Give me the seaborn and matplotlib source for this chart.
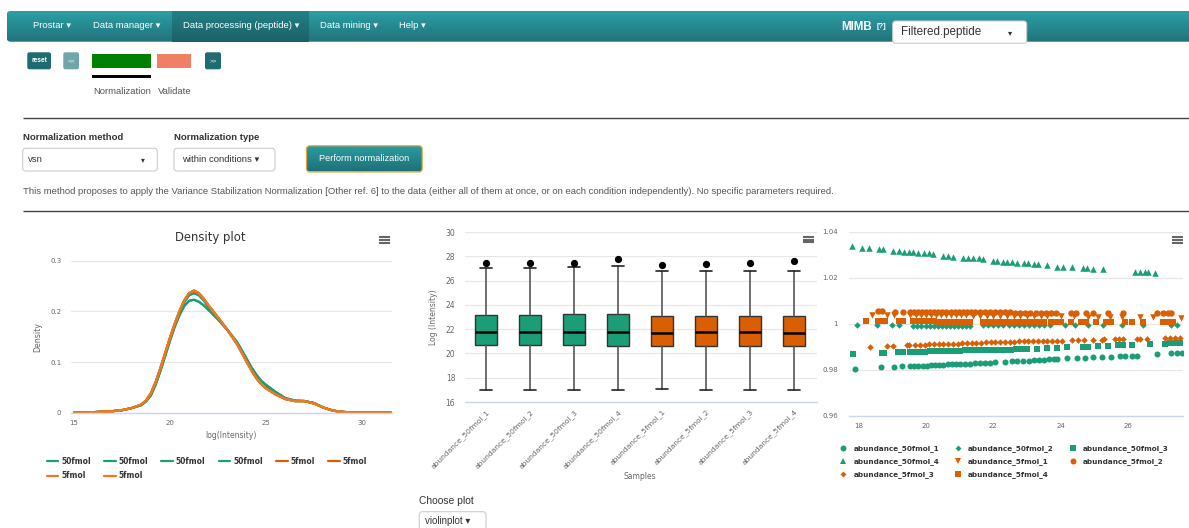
import numpy as np
import pandas as pd
import matplotlib
matplotlib.use("Agg")
import matplotlib.pyplot as plt
import seaborn as sns
from matplotlib.patches import Rectangle, FancyBboxPatch
from matplotlib.lines import Line2D
from matplotlib.colors import LinearSegmentedColormap

# ---------------- DATA ----------------
samples = ["abundance_50fmol_1", "abundance_50fmol_2", "abundance_50fmol_3", "abundance_50fmol_4",
           "abundance_5fmol_1", "abundance_5fmol_2", "abundance_5fmol_3", "abundance_5fmol_4"]
conditions = ["50fmol", "50fmol", "50fmol", "50fmol", "5fmol", "5fmol", "5fmol", "5fmol"]

# density plot
density_x = [15.0, 15.5, 16.0, 16.5, 17.0, 17.5, 18.0, 18.5, 18.75, 19.0,
             19.25, 19.5, 19.75, 20.0, 20.25, 20.5, 20.75, 21.0, 21.25, 21.5,
             21.75, 22.0, 22.5, 23.0, 23.5, 24.0, 24.25, 24.5, 24.75, 25.0,
             25.5, 26.0, 26.5, 27.0, 27.5, 28.0, 28.5, 29.0, 29.5, 30.0,
             31.0, 31.5]
dens_orange = [0.000, 0.000, 0.001, 0.002, 0.003, 0.005, 0.009, 0.016, 0.024, 0.038,
               0.060, 0.088, 0.118, 0.148, 0.176, 0.201, 0.222, 0.236, 0.241, 0.236,
               0.225, 0.212, 0.188, 0.163, 0.135, 0.100, 0.083, 0.068, 0.057, 0.048,
               0.036, 0.027, 0.023, 0.023, 0.018, 0.010, 0.004, 0.0015, 0.0005, 0.0002,
               0.000, 0.000]
dens_green_a = [0.000, 0.000, 0.001, 0.002, 0.003, 0.005, 0.009, 0.015, 0.022, 0.034,
                0.055, 0.082, 0.112, 0.142, 0.170, 0.193, 0.211, 0.221, 0.223, 0.219,
                0.212, 0.203, 0.184, 0.163, 0.139, 0.106, 0.089, 0.075, 0.063, 0.055,
                0.041, 0.029, 0.024, 0.023, 0.019, 0.010, 0.004, 0.0015, 0.0005, 0.0002,
                0.000, 0.000]
dens_green_b = [0.000, 0.000, 0.001, 0.002, 0.003, 0.005, 0.009, 0.015, 0.023, 0.035,
                0.057, 0.085, 0.115, 0.146, 0.174, 0.199, 0.219, 0.232, 0.236, 0.232,
                0.222, 0.209, 0.186, 0.163, 0.137, 0.103, 0.086, 0.071, 0.060, 0.052,
                0.039, 0.028, 0.023, 0.023, 0.019, 0.010, 0.004, 0.0015, 0.0005, 0.0002,
                0.000, 0.000]
density_by_sample = [dens_green_a, dens_green_a, dens_green_b, dens_green_b,
                     dens_orange, dens_orange, dens_orange, dens_orange]

# boxplot statistics (log intensity)
box_q1 = [20.69, 20.69, 20.69, 20.64, 20.64, 20.64, 20.64, 20.64]
box_median = [21.79, 21.79, 21.79, 21.79, 21.66, 21.74, 21.74, 21.66]
box_q3 = [23.17, 23.17, 23.25, 23.22, 23.08, 23.08, 23.08, 23.08]
box_whislo = [17.02, 17.02, 16.96, 16.96, 17.07, 17.02, 17.02, 17.02]
box_whishi = [27.01, 27.01, 27.09, 27.17, 26.79, 26.79, 26.79, 26.79]
box_outlier = [27.47, 27.47, 27.42, 27.75, 27.31, 27.36, 27.42, 27.58]

# scatter series
sc_x_50_1 = [17.90, 18.67, 19.06, 19.28, 19.53, 19.65, 19.78, 19.90, 20.02, 20.15,
             20.28, 20.40, 20.52, 20.65, 20.78, 20.90, 21.02, 21.15, 21.30, 21.45,
             21.60, 21.75, 21.90, 22.05, 22.35, 22.55, 22.70, 22.89, 23.05, 23.20,
             23.35, 23.50, 23.65, 23.80, 23.90, 24.17, 24.47, 24.72, 24.96, 25.21,
             25.50, 25.75, 25.90, 26.10, 26.25, 26.84, 27.28, 27.43, 27.58]
sc_y_50_1 = [0.9803, 0.9811, 0.9814, 0.9816, 0.9817, 0.9818, 0.9818, 0.9819, 0.9819, 0.9820,
             0.9821, 0.9822, 0.9823, 0.9824, 0.9824, 0.9825, 0.9826, 0.9827, 0.9828, 0.9829,
             0.9830, 0.9831, 0.9832, 0.9833, 0.9835, 0.9837, 0.9838, 0.9840, 0.9841, 0.9843,
             0.9844, 0.9845, 0.9847, 0.9848, 0.9849, 0.9851, 0.9852, 0.9854, 0.9855, 0.9856,
             0.9858, 0.9859, 0.9860, 0.9862, 0.9863, 0.9869, 0.9872, 0.9872, 0.9872]
sc_x_50_2 = [17.97, 18.54, 18.99, 19.19, 19.63, 19.75, 19.87, 19.99, 20.11, 20.23,
             20.35, 20.47, 20.59, 20.71, 20.83, 20.95, 21.07, 21.19, 21.31, 21.70,
             21.85, 22.00, 22.15, 22.30, 22.45, 22.60, 22.75, 22.90, 23.05, 23.20,
             23.35, 23.50, 23.68, 24.12, 24.42, 24.81, 25.26, 25.80, 26.44, 27.28,
             27.43]
sc_y_50_2 = [0.9994, 0.9994, 0.9994, 0.9994, 0.9993, 0.9993, 0.9993, 0.9993, 0.9993, 0.9993,
             0.9993, 0.9993, 0.9993, 0.9993, 0.9993, 0.9993, 0.9993, 0.9993, 0.9993, 0.9994,
             0.9994, 0.9994, 0.9994, 0.9994, 0.9994, 0.9994, 0.9994, 0.9994, 0.9994, 0.9994,
             0.9994, 0.9994, 0.9994, 0.9994, 0.9995, 0.9995, 0.9995, 0.9995, 0.9995, 0.9995,
             0.9995]
sc_x_50_3 = [17.85, 18.69, 18.76, 19.16, 19.31, 19.53, 19.68, 19.83, 19.98, 20.12,
             20.27, 20.42, 20.57, 20.72, 20.87, 21.02, 21.17, 21.32, 21.47, 21.62,
             21.77, 21.92, 22.07, 22.22, 22.37, 22.52, 22.67, 22.82, 22.99, 23.28,
             23.58, 23.88, 24.17, 24.67, 24.81, 25.11, 25.41, 25.70, 25.85, 26.10,
             26.64, 27.09, 27.24, 27.39, 27.53]
sc_y_50_3 = [0.9870, 0.9875, 0.9875, 0.9877, 0.9878, 0.9879, 0.9879, 0.9880, 0.9880, 0.9881,
             0.9881, 0.9882, 0.9883, 0.9883, 0.9884, 0.9884, 0.9885, 0.9885, 0.9886, 0.9886,
             0.9887, 0.9887, 0.9888, 0.9888, 0.9889, 0.9889, 0.9890, 0.9890, 0.9891, 0.9893,
             0.9895, 0.9897, 0.9899, 0.9901, 0.9902, 0.9904, 0.9905, 0.9907, 0.9908, 0.9909,
             0.9912, 0.9915, 0.9916, 0.9916, 0.9916]
sc_x_50_4 = [17.80, 18.12, 18.30, 18.61, 18.72, 19.04, 19.19, 19.34, 19.49, 19.63,
             19.78, 19.93, 20.08, 20.22, 20.52, 20.67, 20.81, 21.11, 21.26, 21.41,
             21.56, 21.70, 22.00, 22.10, 22.30, 22.40, 22.55, 22.70, 22.90, 23.04,
             23.19, 23.33, 23.58, 23.88, 24.07, 24.32, 24.67, 24.77, 24.96, 25.26,
             26.20, 26.35, 26.49, 26.59, 26.79]
sc_y_50_4 = [1.0339, 1.0332, 1.0332, 1.0325, 1.0325, 1.0317, 1.0316, 1.0315, 1.0313, 1.0312,
             1.0310, 1.0309, 1.0308, 1.0304, 1.0297, 1.0296, 1.0293, 1.0288, 1.0287, 1.0286,
             1.0285, 1.0283, 1.0274, 1.0273, 1.0271, 1.0268, 1.0268, 1.0267, 1.0265, 1.0264,
             1.0261, 1.0259, 1.0257, 1.0249, 1.0249, 1.0249, 1.0245, 1.0245, 1.0241, 1.0239,
             1.0228, 1.0227, 1.0226, 1.0225, 1.0223]
sc_x_5_1 = [18.40, 18.84, 19.06, 19.53, 19.70, 19.85, 20.00, 20.15, 20.30, 20.45,
            20.60, 20.75, 20.90, 21.05, 21.20, 21.40, 21.60, 21.80, 22.00, 22.20,
            22.40, 22.60, 22.80, 23.00, 23.20, 23.40, 23.60, 24.00, 24.40, 24.80,
            25.10, 25.46, 25.80, 26.35, 26.74, 27.55]
sc_y_5_1 = [1.0040, 1.0040, 1.0039, 1.0039, 1.0039, 1.0039, 1.0038, 1.0038, 1.0038, 1.0038,
            1.0038, 1.0037, 1.0037, 1.0037, 1.0037, 1.0036, 1.0036, 1.0036, 1.0036, 1.0035,
            1.0035, 1.0035, 1.0035, 1.0034, 1.0034, 1.0034, 1.0034, 1.0033, 1.0033, 1.0032,
            1.0032, 1.0031, 1.0031, 1.0030, 1.0030, 1.0028]
sc_x_5_2 = [18.59, 18.69, 19.09, 19.33, 19.53, 19.65, 19.77, 19.89, 20.01, 20.13,
            20.25, 20.37, 20.49, 20.61, 20.73, 20.85, 20.97, 21.09, 21.21, 21.33,
            21.45, 21.60, 21.75, 21.90, 22.05, 22.20, 22.35, 22.50, 22.65, 22.80,
            22.95, 23.10, 23.25, 23.40, 23.55, 23.70, 23.85, 24.30, 24.45, 24.75,
            24.96, 25.41, 25.85, 26.84, 27.04, 27.18, 27.28]
sc_y_5_2 = [1.0055, 1.0055, 1.0054, 1.0054, 1.0054, 1.0054, 1.0054, 1.0053, 1.0053, 1.0053,
            1.0053, 1.0053, 1.0053, 1.0053, 1.0052, 1.0052, 1.0052, 1.0052, 1.0052, 1.0052,
            1.0052, 1.0051, 1.0051, 1.0051, 1.0051, 1.0051, 1.0051, 1.0051, 1.0050, 1.0050,
            1.0050, 1.0050, 1.0050, 1.0050, 1.0050, 1.0049, 1.0049, 1.0049, 1.0049, 1.0048,
            1.0048, 1.0047, 1.0047, 1.0046, 1.0046, 1.0046, 1.0046]
sc_x_5_3 = [18.35, 18.86, 19.04, 19.43, 19.51, 19.68, 19.82, 19.96, 20.10, 20.24,
            20.38, 20.52, 20.66, 20.80, 20.94, 21.08, 21.22, 21.36, 21.50, 21.64,
            21.78, 21.92, 22.06, 22.20, 22.34, 22.48, 22.62, 22.76, 22.90, 23.04,
            23.18, 23.32, 23.46, 23.60, 23.74, 23.88, 24.02, 24.32, 24.52, 24.70,
            24.96, 25.22, 25.28, 25.60, 25.72, 25.85, 26.25, 26.35, 26.54, 27.09,
            27.24, 27.39, 27.53]
sc_y_5_3 = [0.9901, 0.9904, 0.9906, 0.9907, 0.9907, 0.9909, 0.9910, 0.9910, 0.9911, 0.9912,
            0.9912, 0.9913, 0.9914, 0.9915, 0.9915, 0.9916, 0.9917, 0.9918, 0.9918, 0.9919,
            0.9920, 0.9921, 0.9921, 0.9922, 0.9922, 0.9923, 0.9923, 0.9924, 0.9924, 0.9925,
            0.9925, 0.9926, 0.9926, 0.9926, 0.9927, 0.9927, 0.9928, 0.9929, 0.9929, 0.9930,
            0.9931, 0.9932, 0.9933, 0.9935, 0.9935, 0.9935, 0.9936, 0.9936, 0.9936, 0.9938,
            0.9938, 0.9938, 0.9938]
sc_x_5_4 = [18.23, 18.59, 18.69, 18.79, 19.19, 19.33, 19.63, 19.75, 19.87, 19.99,
            20.11, 20.23, 20.35, 20.47, 20.59, 20.71, 20.83, 20.95, 21.07, 21.19,
            21.31, 21.70, 21.82, 21.94, 22.06, 22.18, 22.30, 22.42, 22.54, 22.66,
            22.78, 22.90, 23.02, 23.14, 23.26, 23.38, 23.50, 23.70, 23.85, 24.00,
            24.30, 24.60, 24.75, 25.05, 25.35, 25.50, 25.90, 26.10, 26.44, 27.04,
            27.18, 27.33]
sc_y_5_4 = [1.0011, 1.0012, 1.0012, 1.0012, 1.0011, 1.0011, 1.0011, 1.0011, 1.0011, 1.0011,
            1.0011, 1.0011, 1.0010, 1.0010, 1.0010, 1.0010, 1.0010, 1.0010, 1.0010, 1.0010,
            1.0010, 1.0010, 1.0010, 1.0010, 1.0010, 1.0010, 1.0010, 1.0010, 1.0010, 1.0010,
            1.0010, 1.0010, 1.0010, 1.0010, 1.0010, 1.0010, 1.0010, 1.0010, 1.0010, 1.0010,
            1.0010, 1.0010, 1.0010, 1.0010, 1.0010, 1.0010, 1.0010, 1.0010, 1.0010, 1.0009,
            1.0009, 1.0009]
scatter_x = [sc_x_50_1, sc_x_50_2, sc_x_50_3, sc_x_50_4, sc_x_5_1, sc_x_5_2, sc_x_5_3, sc_x_5_4]
scatter_y = [sc_y_50_1, sc_y_50_2, sc_y_50_3, sc_y_50_4, sc_y_5_1, sc_y_5_2, sc_y_5_3, sc_y_5_4]

density_xticks = [15, 20, 25, 30]
density_yticks = [0, 0.1, 0.2, 0.3]
density_yticklabels = ["0", "0.1", "0.2", "0.3"]
box_yticks = [16, 18, 20, 22, 24, 26, 28, 30]
scatter_xticks = [18, 20, 22, 24, 26]
scatter_yticks = [0.96, 0.98, 1.0, 1.02, 1.04]
scatter_yticklabels = ["0.96", "0.98", "1", "1.02", "1.04"]

# ---------------- STYLE ----------------
GREEN = "#1b9e77"
ORANGE = "#d95f02"
ORANGE_L = "#ec7a22"
line_colors = [GREEN, GREEN, GREEN, GREEN, ORANGE, ORANGE, ORANGE_L, ORANGE_L]
box_colors = [GREEN] * 4 + [ORANGE] * 4
sc_colors = [GREEN] * 4 + [ORANGE] * 4
sc_markers = ["o", "D", "s", "^", "v", "o", "D", "s"]
sc_sizes = [19, 11, 16, 22, 22, 21, 11, 17]
leg_msizes = [4.3, 3.0, 3.9, 4.5, 4.5, 4.3, 3.0, 3.9]

sns.set_theme(style="white")
plt.rcParams["font.family"] = ["DejaVu Sans"]
PAGE = ["Liberation Sans", "DejaVu Sans"]

W, H = 1189, 528
fig = plt.figure(figsize=(W / 100, H / 100), dpi=100)
fig.patch.set_facecolor("white")

bg = fig.add_axes([0, 0, 1, 1], zorder=0)
bg.set_xlim(0, W)
bg.set_ylim(H, 0)
bg.axis("off")

# navbar
grad = np.linspace(0, 1, 64).reshape(-1, 1)
nav_cmap = LinearSegmentedColormap.from_list("nav", ["#2b9fa6", "#22727a"])
act_cmap = LinearSegmentedColormap.from_list("act", ["#228187", "#1d6067"])
im = bg.imshow(grad, cmap=nav_cmap, extent=(6.7, W + 6, 41.7, 11), aspect="auto", zorder=1)
clip = FancyBboxPatch((6.7, 11), W, 30.7, boxstyle="round,pad=0,rounding_size=4",
                      facecolor="none", edgecolor="none", transform=bg.transData)
bg.add_patch(clip)
im.set_clip_path(clip)
bg.imshow(grad, cmap=act_cmap, extent=(172, 309, 41.7, 11), aspect="auto", zorder=1.5)
bg.set_xlim(0, W)
bg.set_ylim(H, 0)

nav_items = [(32.7, "Prostar ▾"), (93, "Data manager ▾"), (182.7, "Data processing (peptide) ▾"),
             (320, "Data mining ▾"), (399, "Help ▾")]
for x, t in nav_items:
    bg.text(x, 25, t, color="white", fontsize=6.8, family=PAGE, va="center", zorder=3)
bg.text(841.7, 27, "MIMB", color="white", fontsize=8.3, weight="bold", family=PAGE, va="center", zorder=3)
bg.text(877, 26.5, "[?]", color="white", fontsize=5.5, weight="bold", family=PAGE, va="center", zorder=3)


def box(x0, y0, x1, y1, fc, ec=None, lw=0.0, r=2.0, z=2):
    p = FancyBboxPatch((x0, y0), x1 - x0, y1 - y0, boxstyle=f"round,pad=0,rounding_size={r}",
                       facecolor=fc, edgecolor=ec if ec else fc, linewidth=lw, zorder=z)
    bg.add_patch(p)
    return p


box(892.7, 21, 1026.7, 43.3, "white", "#cccccc", 0.8, 3, 3)
bg.text(901, 32.5, "Filtered.peptide", color="#333333", fontsize=8.4, family=PAGE, va="center", zorder=4)
bg.text(1010, 32.5, "▾", color="#333333", fontsize=6, va="center", ha="center", zorder=4)

# wizard buttons
box(27.3, 52.3, 51, 69.3, "#1e6b70", r=2)
bg.text(39.2, 60.8, "reset", color="white", fontsize=4.8, weight="bold", family=PAGE, ha="center", va="center", zorder=3)
box(63.3, 52.3, 79, 69.3, "#6ea6ab", r=2)
bg.text(71.2, 60.8, "<<", color="white", fontsize=4.6, family=PAGE, ha="center", va="center", zorder=3)
bg.add_patch(Rectangle((92.3, 54.3), 58.4, 13.4, facecolor="#008000", edgecolor="none", zorder=2))
bg.add_patch(Rectangle((157.3, 54.3), 33.7, 13.4, facecolor="#ef8064", edgecolor="none", zorder=2))
box(205, 52.3, 221, 69.3, "#1e6b70", r=2)
bg.text(213, 60.8, ">>", color="white", fontsize=4.6, family=PAGE, ha="center", va="center", zorder=3)
bg.add_patch(Rectangle((92.3, 75), 58.4, 3.2, facecolor="black", edgecolor="none", zorder=2))
bg.text(93, 91, "Normalization", color="#555555", fontsize=6.8, family=PAGE, va="center")
bg.text(157.7, 91, "Validate", color="#555555", fontsize=6.8, family=PAGE, va="center")

bg.hlines(118.3, 22.7, W, color="#444444", lw=1.0)
bg.text(22.7, 138, "Normalization method", color="#333333", fontsize=6.8, weight="bold", family=PAGE, va="center")
bg.text(174, 138, "Normalization type", color="#333333", fontsize=6.8, weight="bold", family=PAGE, va="center")
box(22.7, 148.3, 157.3, 171, "white", "#cccccc", 0.8, 3)
bg.text(27.7, 160, "vsn", color="#333333", fontsize=6.8, family=PAGE, va="center", zorder=3)
bg.text(142.7, 160, "▾", color="#333333", fontsize=5.5, ha="center", va="center", zorder=3)
box(174, 148.3, 275, 171, "white", "#cccccc", 0.8, 3)
bg.text(182, 160, "within conditions ▾", color="#333333", fontsize=6.8, family=PAGE, va="center", zorder=3)

btn_cmap = LinearSegmentedColormap.from_list("btn", ["#2a9ca2", "#1e7177"])
btn = box(306.7, 146, 422, 171.7, "#23878d", "#e3a440", 1.2, 3)
bim = bg.imshow(grad, cmap=btn_cmap, extent=(307.2, 421.5, 171.2, 146.5), aspect="auto", zorder=2.5)
bclip = FancyBboxPatch((307.2, 146.5), 114.3, 24.7, boxstyle="round,pad=0,rounding_size=2.5",
                       facecolor="none", edgecolor="none", transform=bg.transData)
bg.add_patch(bclip)
bim.set_clip_path(bclip)
bg.set_xlim(0, W)
bg.set_ylim(H, 0)
bg.text(364.3, 158.5, "Perform normalization", color="white", fontsize=6.6, family=PAGE,
        ha="center", va="center", zorder=4)

bg.text(23.3, 191.7, "This method proposes to apply the Variance Stabilization Normalization [Other ref. 6] "
        "to the data (either all of them at once, or on each condition independently). "
        "No specific parameters required.", color="#555555", fontsize=6.83, family=PAGE, va="center")
bg.hlines(211, 22.7, W, color="#444444", lw=1.0)

bg.text(419.3, 500.7, "Choose plot", color="#333333", fontsize=7.4, family=PAGE, va="center")
box(419.3, 511.7, 486, 540, "white", "#cccccc", 0.8, 3)
bg.text(425, 521, "violinplot ▾", color="#333333", fontsize=7, family=PAGE, va="center", zorder=3)

# hamburger menu icons
for (x0, x1, ys) in [(378.7, 389.5, [237, 240, 243]), (803, 814, [236.7, 239.5, 242.3]),
                     (1171.7, 1182.7, [237, 240, 243])]:
    bg.hlines(ys, x0, x1, color="#666666", lw=1.5)


def px_axes(x0, y0, x1, y1):
    return fig.add_axes([x0 / W, 1 - y1 / H, (x1 - x0) / W, (y1 - y0) / H], zorder=2)


def style_axes(ax, size):
    ax.set_facecolor("none")
    for s in ["top", "right", "left"]:
        ax.spines[s].set_visible(False)
    ax.spines["bottom"].set_color("#ccd6eb")
    ax.spines["bottom"].set_linewidth(1.0)
    ax.grid(axis="y", color="#e6e6e6", lw=0.8)
    ax.grid(axis="x", visible=False)
    ax.set_axisbelow(True)
    ax.tick_params(axis="both", length=0, labelsize=size, labelcolor="#666666")


# ---------------- Density plot ----------------
ax1 = px_axes(71, 260.7, 391.7, 412.7)
rows = []
for s, prof in zip(samples, density_by_sample):
    for xv, yv in zip(density_x, prof):
        rows.append({"x": xv, "density": yv, "sample": s})
df_dens = pd.DataFrame(rows)
sns.lineplot(data=df_dens, x="x", y="density", hue="sample", hue_order=samples,
             palette=dict(zip(samples, line_colors)), linewidth=1.6, legend=False, ax=ax1,
             estimator=None, sort=True)
style_axes(ax1, 5)
ax1.set_xlim(14.844, 31.547)
ax1.set_ylim(0, 0.3)
ax1.set_xticks(density_xticks)
ax1.set_yticks(density_yticks)
ax1.set_yticklabels(density_yticklabels)
ax1.tick_params(axis="x", pad=5)
ax1.tick_params(axis="y", pad=7)
ax1.set_xlabel("log(Intensity)", fontsize=5.5, color="#666666")
ax1.set_ylabel("Density", fontsize=5.7, color="#666666")
ax1.xaxis.set_label_coords(0.499, -0.153)
ax1.xaxis.label.set_va("center")
ax1.yaxis.set_label_coords(-0.105, 0.5)
ax1.yaxis.label.set_va("center")
ax1.set_title("Density plot", fontsize=8.4, color="#333333", x=(210.7 - 71) / 320.7,
              y=(412.7 - 237.3) / 152, va="center", pad=0)

dens_handles = [Line2D([], [], color=c, lw=1.6) for c in line_colors]
order = [0, 6, 1, 7, 2, 3, 4, 5]
fig.legend([dens_handles[i] for i in order], [conditions[i] for i in order],
           loc="upper left", bbox_to_anchor=(46.7 / W, 1 - 456.5 / H), ncol=6, frameon=False,
           prop={"size": 5.5, "weight": "bold"}, labelcolor="#333333",
           handlelength=1.53, handletextpad=0.35, columnspacing=1.75, labelspacing=0.75,
           borderpad=0, borderaxespad=0)

# ---------------- Boxplot ----------------
ax2 = px_axes(465, 232, 816.7, 402)
stats = []
for i, s in enumerate(samples):
    stats.append(dict(med=box_median[i], q1=box_q1[i], q3=box_q3[i], whislo=box_whislo[i],
                      whishi=box_whishi[i], fliers=[box_outlier[i]], label=s))
bp = ax2.bxp(stats, positions=list(range(len(samples))), widths=0.485, capwidths=0.26,
             patch_artist=True, showfliers=True,
             boxprops=dict(edgecolor="#333333", linewidth=1.0),
             medianprops=dict(color="black", linewidth=1.8),
             whiskerprops=dict(color="#555555", linewidth=1.2),
             capprops=dict(color="#222222", linewidth=1.2),
             flierprops=dict(marker="o", markerfacecolor="black", markeredgecolor="black", markersize=4.2))
for patch, c in zip(bp["boxes"], box_colors):
    patch.set_facecolor(c)
style_axes(ax2, 5.5)
ax2.set_xlim(-0.477, 7.516)
ax2.set_ylim(16, 30)
ax2.set_yticks(box_yticks)
ax2.set_xticks(list(range(len(samples))))
ax2.set_xticklabels(samples, rotation=45, ha="right", rotation_mode="anchor", fontsize=5.4, color="#666666")
ax2.tick_params(axis="x", pad=4.5)
ax2.tick_params(axis="y", pad=7)
ax2.set_xlabel("Samples", fontsize=5.5, color="#666666")
ax2.set_ylabel("Log (Intensity)", fontsize=5.5, color="#666666")
ax2.xaxis.set_label_coords((640 - 465) / 351.7, -(476.7 - 402) / 170)
ax2.xaxis.label.set_va("center")
ax2.yaxis.set_label_coords((434 - 465) / 351.7, 0.5)
ax2.yaxis.label.set_va("center")

# ---------------- Scatter ----------------
ax3 = px_axes(849.3, 232, 1183.3, 416)
for i, s in enumerate(samples):
    d = pd.DataFrame({"x": scatter_x[i], "y": scatter_y[i]})
    sns.scatterplot(data=d, x="x", y="y", color=sc_colors[i], marker=sc_markers[i], s=sc_sizes[i],
                    linewidth=0, ax=ax3, legend=False)
style_axes(ax3, 5)
ax3.set_xlim(17.73, 27.63)
ax3.set_ylim(0.96, 1.04)
ax3.set_xticks(scatter_xticks)
ax3.set_yticks(scatter_yticks)
ax3.set_yticklabels(scatter_yticklabels)
ax3.tick_params(axis="x", pad=5)
ax3.tick_params(axis="y", pad=8)
ax3.set_xlabel("")
ax3.set_ylabel("")

sc_handles = [Line2D([], [], color=sc_colors[i], marker=sc_markers[i], linestyle="none",
                     markersize=leg_msizes[i], markeredgewidth=0) for i in range(8)]
order3 = [0, 3, 6, 1, 4, 7, 2, 5]
fig.legend([sc_handles[i] for i in order3], [samples[i] for i in order3],
           loc="upper left", bbox_to_anchor=(839.7 / W, 1 - 445.5 / H), ncol=3, frameon=False,
           prop={"size": 5.2, "weight": "bold"}, labelcolor="#333333",
           handlelength=1.0, handletextpad=0.89, columnspacing=2.13, labelspacing=0.8,
           borderpad=0, borderaxespad=0)

fig.savefig("out.png", dpi=100, facecolor="white")
